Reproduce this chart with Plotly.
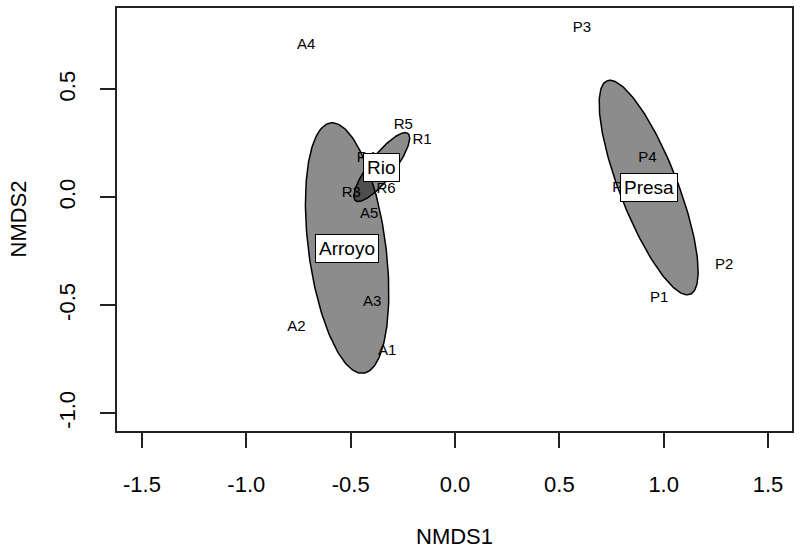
import numpy as np
import plotly.graph_objects as go

# site scores (NMDS1, NMDS2)
sites = ["A1", "A2", "A3", "A4", "A5",
         "P1", "P2", "P3", "P4", "P5",
         "R1", "R3", "R4", "R5", "R6"]
nmds1 = [-0.325, -0.760, -0.397, -0.713, -0.411,
         0.979, 1.290, 0.608, 0.922, 0.798,
         -0.158, -0.497, -0.425, -0.248, -0.330]
nmds2 = [-0.714, -0.603, -0.488, 0.705, -0.077,
         -0.469, -0.317, 0.785, 0.181, 0.042,
         0.264, 0.019, 0.181, 0.333, 0.038]

# group ellipses: centre, semi-axes, angle of major axis (deg)
groups = ["Arroyo", "Presa", "Rio"]
ell_cx = [-0.517, 0.928, -0.351]
ell_cy = [-0.235, 0.045, 0.140]
ell_a = [0.585, 0.533, 0.200]
ell_b = [0.185, 0.138, 0.058]
ell_ang = [97.8, 112.0, 51.0]

xticks = [-1.5, -1.0, -0.5, 0.0, 0.5, 1.0, 1.5]
yticks = [-1.0, -0.5, 0.0, 0.5]

FONT = "Arial, Liberation Sans, sans-serif"

fig = go.Figure()

t = np.linspace(0, 2 * np.pi, 200)
for g, cx, cy, a, b, ang in zip(groups, ell_cx, ell_cy, ell_a, ell_b, ell_ang):
    th = np.radians(ang)
    ex = cx + a * np.cos(t) * np.cos(th) - b * np.sin(t) * np.sin(th)
    ey = cy + a * np.cos(t) * np.sin(th) + b * np.sin(t) * np.cos(th)
    fig.add_trace(go.Scatter(x=ex, y=ey, mode="lines", fill="toself",
                             fillcolor="rgba(0,0,0,0.45)",
                             line=dict(color="black", width=1.5),
                             hoverinfo="skip", showlegend=False))

fig.add_trace(go.Scatter(x=nmds1, y=nmds2, mode="text", text=sites,
                         textposition="middle center",
                         textfont=dict(family=FONT, size=15, color="black"),
                         showlegend=False))

for g, cx, cy in zip(groups, ell_cx, ell_cy):
    fig.add_annotation(x=cx, y=cy, text=g, showarrow=False,
                       font=dict(family=FONT, size=19, color="black"),
                       bgcolor="white", bordercolor="black", borderwidth=1,
                       borderpad=3)

fig.add_annotation(x=0.5, y=0, xref="paper", yref="paper", text="NMDS1",
                   showarrow=False, yshift=-105, yanchor="middle",
                   font=dict(family=FONT, size=22, color="black"))
fig.add_annotation(x=0, y=0.5, xref="paper", yref="paper", text="NMDS2",
                   showarrow=False, xshift=-99, xanchor="center",
                   textangle=-90,
                   font=dict(family=FONT, size=22, color="black"))

axis_style = dict(showgrid=False, zeroline=False, showline=True, mirror=True,
                  linecolor="#222", linewidth=1.5, ticks="outside",
                  ticklen=15, tickwidth=1.5, tickcolor="#222",
                  tickfont=dict(family=FONT, size=22, color="black"))

fig.update_xaxes(range=[-1.6197, 1.6149], tickvals=xticks,
                 ticktext=["%.1f" % v for v in xticks],
                 ticklabelstandoff=18, **axis_style)
fig.update_yaxes(range=[-1.0825, 0.8769], tickvals=yticks,
                 ticktext=["%.1f" % v for v in yticks],
                 tickangle=-90, ticklabelstandoff=16, **axis_style)

fig.update_layout(width=800, height=550, plot_bgcolor="white",
                  paper_bgcolor="white",
                  margin=dict(l=117, r=6, t=6, b=119))

# drop the page's default body margin so the figure sits at the corner
fig.write_html("out.html", config={"displayModeBar": False},
               post_script="document.body.style.margin='0px';")
